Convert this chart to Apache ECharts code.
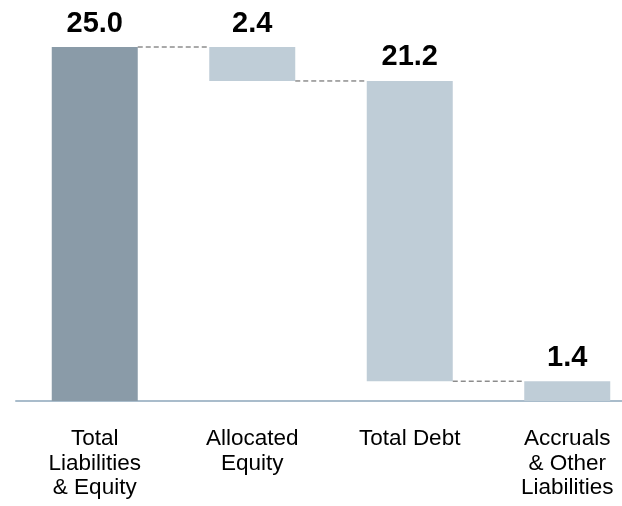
<!DOCTYPE html>
<html>
<head>
<meta charset="utf-8">
<script src="https://cdn.jsdelivr.net/npm/echarts@6/dist/echarts.min.js"></script>
<style>
  html, body { margin: 0; padding: 0; background: #fff; }
  #main { width: 622px; height: 506px; }
</style>
</head>
<body>
<div id="main"></div>
<script>
var categories = ['Total\nLiabilities\n& Equity', 'Allocated\nEquity', 'Total Debt', 'Accruals\n& Other\nLiabilities'];
var values = [25.0, 2.4, 21.2, 1.4];
// first bar is the total, the rest are drawn down from it
var isTotal = [true, false, false, false];

var chart = echarts.init(document.getElementById('main'));

// invisible base for each floating bar, and the level of each connector
function getBase(vals) {
  var ret = [];
  var level = vals[0];
  for (var i = 0; i < vals.length; i++) {
    if (isTotal[i]) {
      ret.push(0);
    } else {
      level = level - vals[i];
      ret.push(level);
    }
  }
  return ret;
}

function getLinks(vals, base) {
  var ret = [];
  for (var i = 0; i < vals.length - 1; i++) {
    // connector at the bottom of bar i (top for the total)
    var y = isTotal[i] ? vals[i] : base[i];
    ret.push([i, y]);
  }
  return ret;
}

var base = getBase(values);
var links = getLinks(values, base);
var barW = 86;

var option = {
  animation: false,
  grid: {
    left: 16,
    right: -24,
    top: 47,
    bottom: 105,
    outerBoundsMode: 'none'
  },
  xAxis: {
    type: 'category',
    data: categories,
    axisLine: { lineStyle: { color: '#a9bccb', width: 2 } },
    axisTick: { show: false },
    axisLabel: {
      color: '#000',
      fontFamily: 'Liberation Sans, Arial',
      fontSize: 22.5,
      lineHeight: 24.5,
      margin: 26,
      interval: 0
    }
  },
  yAxis: {
    type: 'value',
    min: 0,
    max: 25,
    show: false,
    splitLine: { show: false }
  },
  series: [
    {
      type: 'bar',
      stack: 'wf',
      barWidth: barW,
      silent: true,
      itemStyle: { color: 'transparent' },
      data: base
    },
    {
      type: 'bar',
      stack: 'wf',
      barWidth: barW,
      data: values.map(function (v, i) {
        return {
          value: v,
          itemStyle: { color: isTotal[i] ? '#8a9ba8' : '#bfcdd7' }
        };
      }),
      label: {
        show: true,
        position: 'top',
        distance: 9,
        color: '#000',
        fontFamily: 'Liberation Sans, Arial',
        fontWeight: 'bold',
        fontSize: 29,
        formatter: function (p) { return p.value.toFixed(1); }
      }
    },
    {
      type: 'custom',
      silent: true,
      z: 5,
      data: links,
      renderItem: function (params, api) {
        var a = api.coord([api.value(0), api.value(1)]);
        var b = api.coord([api.value(0) + 1, api.value(1)]);
        return {
          type: 'line',
          shape: { x1: a[0] + barW / 2, y1: a[1], x2: b[0] - barW / 2, y2: b[1] },
          style: { stroke: '#555', lineWidth: 1, lineDash: [5, 3] }
        };
      }
    }
  ]
};

chart.setOption(option);
</script>
</body>
</html>
